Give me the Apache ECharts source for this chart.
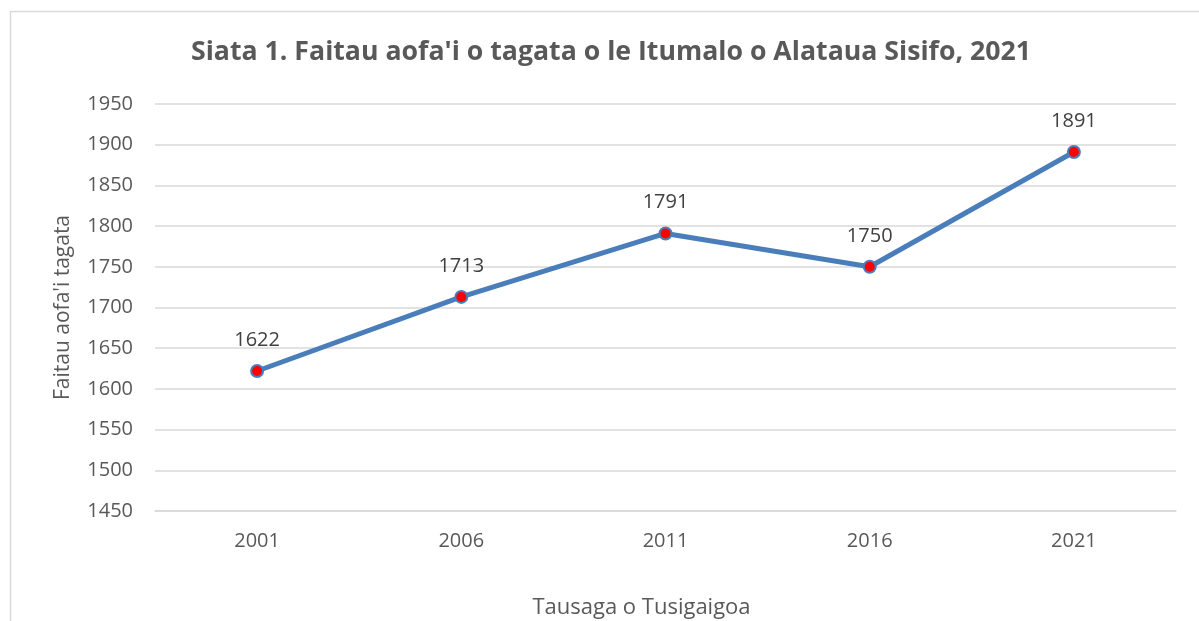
<!DOCTYPE html>
<html>
<head>
<meta charset="utf-8">
<script src="https://cdn.jsdelivr.net/npm/echarts@6/dist/echarts.min.js"></script>
<style>
  html, body { margin: 0; padding: 0; background: #fff; }
  #chart { width: 1199px; height: 621px; }
</style>
</head>
<body>
<div id="chart"></div>
<script>
var years = ["2001", "2006", "2011", "2016", "2021"];
var population = [1622, 1713, 1791, 1750, 1891];

var chart = echarts.init(document.getElementById("chart"));
var font = "'Open Sans', 'Liberation Sans', sans-serif";

var option = {
  backgroundColor: "#fff",
  animation: false,
  graphic: [
    {
      type: "rect",
      shape: { x: 10.5, y: 11.5, width: 1400, height: 800 },
      style: { fill: "none", stroke: "#d9d9d9", lineWidth: 1.5 },
      silent: true
    }
  ],
  title: {
    text: "Siata 1. Faitau aofa'i o tagata o le Itumalo o Alataua Sisifo, 2021",
    left: 606,
    top: 34,
    textAlign: "center",
    textStyle: {
      fontFamily: font,
      fontSize: 26.7,
      fontWeight: "bold",
      color: "#595959"
    }
  },
  grid: { left: 155, right: 23, top: 104, bottom: 110, outerBoundsMode: "none", containLabel: false },
  xAxis: {
    type: "category",
    data: years,
    boundaryGap: true,
    name: "Tausaga o Tusigaigoa",
    nameLocation: "middle",
    nameGap: 86,
    nameTextStyle: { fontFamily: font, fontSize: 22, color: "#595959", padding: [0, 48, 0, 0] },
    axisLine: { show: true, lineStyle: { color: "#d9d9d9", width: 1.5 } },
    axisTick: { show: false },
    axisLabel: { fontFamily: font, fontSize: 20, color: "#595959", margin: 20 }
  },
  yAxis: {
    type: "value",
    min: 1450,
    max: 1950,
    interval: 50,
    name: "Faitau aofa'i tagata",
    nameLocation: "middle",
    nameGap: 81,
    nameTextStyle: { fontFamily: font, fontSize: 21, color: "#595959" },
    axisLine: { show: false },
    axisTick: { show: false },
    axisLabel: {
      fontFamily: font,
      fontSize: 20,
      color: "#595959",
      margin: 22,
      formatter: function (v) { return String(v); }
    },
    splitLine: { lineStyle: { color: "#d9d9d9", width: 1.5 } }
  },
  series: [
    {
      type: "line",
      data: population,
      symbol: "circle",
      symbolSize: 12,
      lineStyle: { color: "#4a7ebb", width: 5 },
      itemStyle: { color: "#ff0000", borderColor: "#4a7ebb", borderWidth: 2 },
      label: {
        show: true,
        position: "top",
        distance: 14,
        fontFamily: font,
        fontSize: 20,
        color: "#404040"
      }
    }
  ]
};

chart.setOption(option);
</script>
</body>
</html>
